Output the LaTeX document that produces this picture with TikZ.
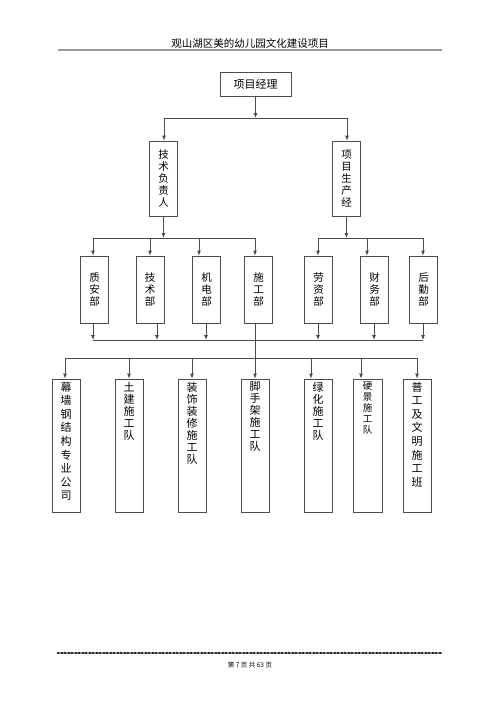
\documentclass[tikz,border=0pt]{standalone}
\usepackage{fontspec}
\setmainfont{Noto Sans CJK SC}
\usetikzlibrary{arrows.meta, positioning}

\begin{document}
\begin{tikzpicture}[x=1pt, y=-1pt,
  box/.style={draw=black!70, line width=0.8pt, inner sep=0pt},
  dept/.style={box, minimum width=28pt, minimum height=67pt, align=center,
    font=\fontsize{10.5}{12.2}\selectfont},
  team/.style={box, minimum width=28pt, minimum height=133pt},
  teamtext/.style={anchor=north, inner sep=0pt, align=center,
    font=\fontsize{11}{12}\selectfont},
  wide/.style={font=\fontsize{11}{13.6}\selectfont},
  link/.style={draw=black!70, line width=0.8pt},
  arr/.style={link, -{Latex[length=5pt, width=4pt]}}
]
\useasboundingbox (0,0) rectangle (500,707);

% Page header
\node[font=\fontsize{10.5}{12}\selectfont] (title) at (250,43) {观山湖区美的幼儿园文化建设项目};
\draw[black!40, line width=1.5pt] (58,50) -- (442,50);

% Management
\node[box, minimum width=71pt, minimum height=24pt, font=\fontsize{11}{12}\selectfont] (pm) at (255.5,84) {项目经理};
\node[dept, minimum height=75pt] (tech) at (163.5,178.5) {技\\术\\负\\责\\人};
\node[dept, minimum height=75pt] (prod) at (346.5,178.5) {项\\目\\生\\产\\经};

% Departments
\node[dept] (zhian) at (94.5,289.5) {质\\安\\部};
\node[dept] (jishu) at (150,289.5) {技\\术\\部};
\node[dept] (jidian) at (206.5,289.5) {机\\电\\部};
\node[dept] (shigong) at (258.5,289.5) {施\\工\\部};
\node[dept] (laozi) at (318.5,289.5) {劳\\资\\部};
\node[dept] (caiwu) at (374.5,289.5) {财\\务\\部};
\node[dept] (houqin) at (423.5,289.5) {后\\勤\\部};

% Work teams
\node[team] (mq) at (66,445.5) {};
\node[team] (tj) at (129,445.5) {};
\node[team] (zs) at (192,445.5) {};
\node[team] (jsj) at (255,445.5) {};
\node[team] (lh) at (318,445.5) {};
\node[team, minimum width=29pt] (yj) at (367.5,445.5) {};
\node[team] (pg) at (417,445.5) {};
\node[teamtext, wide] (mq-t) at ([yshift=-3pt]mq.north) {幕\\墙\\钢\\结\\构\\专\\业\\公\\司};
\node[teamtext] (tj-t) at ([yshift=-3pt]tj.north) {土\\建\\施\\工\\队};
\node[teamtext] (zs-t) at ([yshift=-3pt]zs.north) {装\\饰\\装\\修\\施\\工\\队};
\node[teamtext] (jsj-t) at ([yshift=-3pt]jsj.north) {脚\\手\\架\\施\\工\\队};
\node[teamtext] (lh-t) at ([yshift=-3pt]lh.north) {绿\\化\\施\\工\\队};
\node[teamtext, font=\fontsize{9.5}{11}\selectfont] (yj-t) at ([yshift=-3pt]yj.north) {硬\\景\\施\\工\\队};
\node[teamtext, wide] (pg-t) at ([yshift=-3pt]pg.north) {普\\工\\及\\文\\明\\施\\工\\班};

% Bus points
\coordinate (s1l) at (164,118);
\coordinate (s1r) at (347,118);
\coordinate (d1) at (93,238);
\coordinate (d2) at (150,238);
\coordinate (d3) at (199,238);
\coordinate (d4) at (255,238);
\coordinate (e1) at (318,238);
\coordinate (e2) at (367,238);
\coordinate (e3) at (423,238);
\coordinate (b1) at (93,340);
\coordinate (b2) at (157,340);
\coordinate (b3) at (206,340);
\coordinate (b4) at (318,340);
\coordinate (b5) at (374,340);
\coordinate (b6) at (423,340);
\coordinate (f1) at (65,358);
\coordinate (f2) at (129,358);
\coordinate (f3) at (192,358);
\coordinate (f4) at (255,358);
\coordinate (f5) at (311,358);
\coordinate (f6) at (361,358);
\coordinate (f7) at (417,358);

% Connectors
\draw[arr] (pm.south) -- (pm.south |- s1l);
\draw[link] (s1l) -- (s1r);
\draw[arr] (s1l) -- (s1l |- tech.north);
\draw[arr] (s1r) -- (s1r |- prod.north);

\draw[arr] (tech.south) -- (tech.south |- d1);
\draw[arr] (prod.south) -- (prod.south |- e1);
\draw[link] (d1) -- (d4);
\draw[link] (e1) -- (e3);
\foreach \c/\n in {d1/zhian, d2/jishu, d3/jidian, d4/shigong, e1/laozi, e2/caiwu, e3/houqin}
  \draw[arr] (\c) -- (\c |- \n.north);

\draw[link] (b1) -- (b6);
\foreach \c/\n in {b1/zhian, b2/jishu, b3/jidian, b4/laozi, b5/caiwu, b6/houqin}
  \draw[arr] (\c |- \n.south) -- (\c);
\draw[link] (f4 |- shigong.south) -- (f4);

\draw[link] (f1) -- (f7);
\foreach \c/\n in {f1/mq, f2/tj, f3/zs, f4/jsj, f5/lh, f6/yj, f7/pg}
  \draw[arr] (\c) -- (\c |- \n.north);

% Page footer
\draw[black!45, line width=2pt] (57,653) -- (442,653);
\draw[black!85, line width=2pt, dash pattern=on 2pt off 1.5pt] (57,653) -- (442,653);
\node[font=\fontsize{6.5}{8}\selectfont] (page) at (250,665) {第 7 页 共 63 页};
\end{tikzpicture}
\end{document}
